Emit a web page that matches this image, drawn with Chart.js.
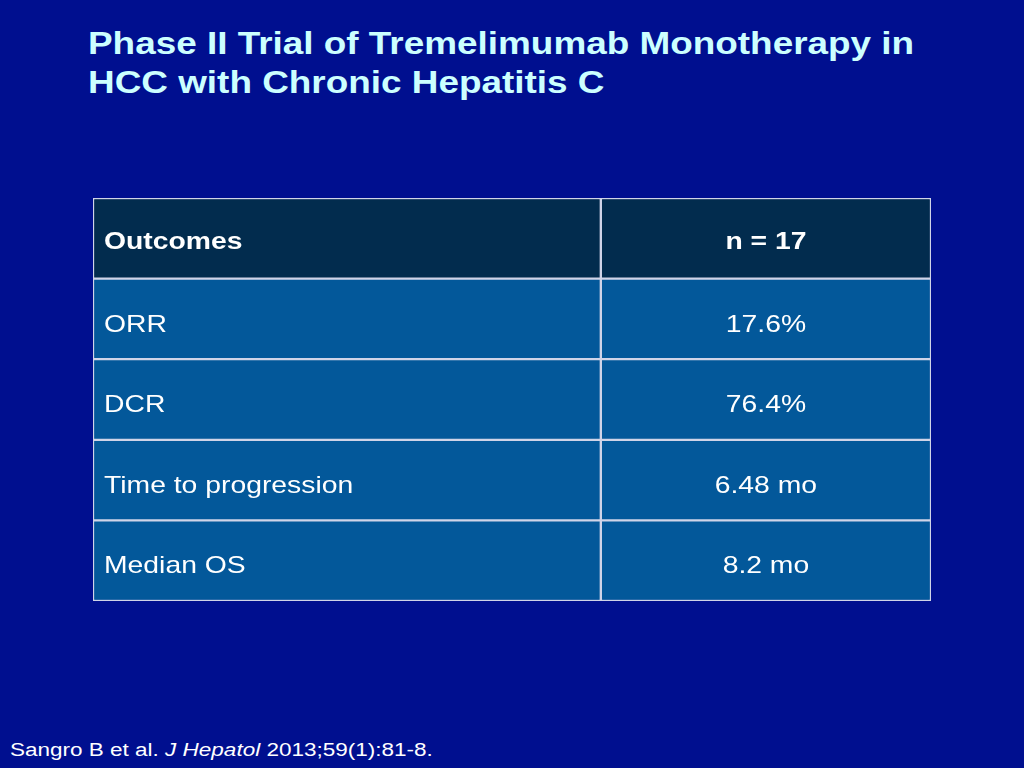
<!DOCTYPE html>
<html>
<head>
<meta charset="utf-8">
<script src="https://cdn.jsdelivr.net/npm/chart.js@4.4.1/dist/chart.umd.min.js"></script>
<style>
  html, body { margin: 0; padding: 0; }
  body { width: 1024px; height: 768px; background: #000f8f; position: relative; overflow: hidden;
         font-family: "Liberation Sans", Arial, sans-serif; }
  #title { position: absolute; left: 88px; top: 24px; color: #ccffff; font-weight: bold;
           font-size: 31px; line-height: 39px; transform: scaleX(1.19); transform-origin: 0 0; white-space: nowrap; }
  #wrap { position: absolute; left: 92px; top: 197px; width: 840px; height: 405px; }
  #foot { position: absolute; left: 10px; top: 740px; color: #ffffff; font-size: 18px;
          transform: scaleX(1.25); transform-origin: 0 0; white-space: nowrap; }
</style>
</head>
<body>
<div id="title">Phase II Trial of Tremelimumab Monotherapy in<br>HCC with Chronic Hepatitis C</div>
<div id="wrap"><canvas id="tabla"></canvas></div>
<div id="foot">Sangro B et al. <i>J Hepatol</i> 2013;59(1):81-8.</div>
<script>
// ═══════════ DATOS ═══════════
const filas = ['Outcomes', 'ORR', 'DCR', 'Time to progression', 'Median OS'];
const valores = ['n = 17', '17.6%', '76.4%', '6.48 mo', '8.2 mo'];
const corteColumna = 0.606;

const colorFila = filas.map((f, i) => i === 0 ? '#022c4e' : '#03589a');

// ═══════════ TEXTO DE CELDAS ═══════════
const estiraX = 1.18;
const textoCeldas = {
  id: 'textoCeldas',
  afterDatasetsDraw(chart) {
    const { ctx, scales: { x, y } } = chart;
    ctx.fillStyle = '#ffffff';
    ctx.textBaseline = 'middle';
    filas.forEach((f, i) => {
      const py = y.getPixelForValue(i) + (i === 0 ? 4 : 6);
      ctx.font = (i === 0 ? 'bold ' : '') + '24px "Liberation Sans", Arial, sans-serif';
      ctx.save();
      ctx.translate(x.getPixelForValue(0) + 11, py);
      ctx.scale(estiraX, 1);
      ctx.textAlign = 'left';
      ctx.fillText(f, 0, 0);
      ctx.restore();
      ctx.save();
      ctx.translate(x.getPixelForValue((corteColumna + 1) / 2), py);
      ctx.scale(estiraX, 1);
      ctx.textAlign = 'center';
      ctx.fillText(valores[i], 0, 0);
      ctx.restore();
    });
  }
};

new Chart(document.getElementById('tabla'), {
  type: 'bar',
  data: {
    labels: filas,
    datasets: [
      { data: filas.map(() => [0, corteColumna]), backgroundColor: colorFila,
        borderColor: '#d0d4e8', borderWidth: 1.5, borderSkipped: false },
      { data: filas.map(() => [corteColumna, 1]), backgroundColor: colorFila,
        borderColor: '#d0d4e8', borderWidth: 1.5, borderSkipped: false }
    ]
  },
  options: {
    indexAxis: 'y',
    responsive: true,
    maintainAspectRatio: false,
    animation: false,
    layout: { padding: 1 },
    datasets: { bar: { barPercentage: 1, categoryPercentage: 1, grouped: false } },
    scales: {
      x: { min: 0, max: 1, display: false },
      y: { display: false }
    },
    plugins: { legend: { display: false }, tooltip: { enabled: false } }
  },
  plugins: [textoCeldas]
});
</script>
</body>
</html>
